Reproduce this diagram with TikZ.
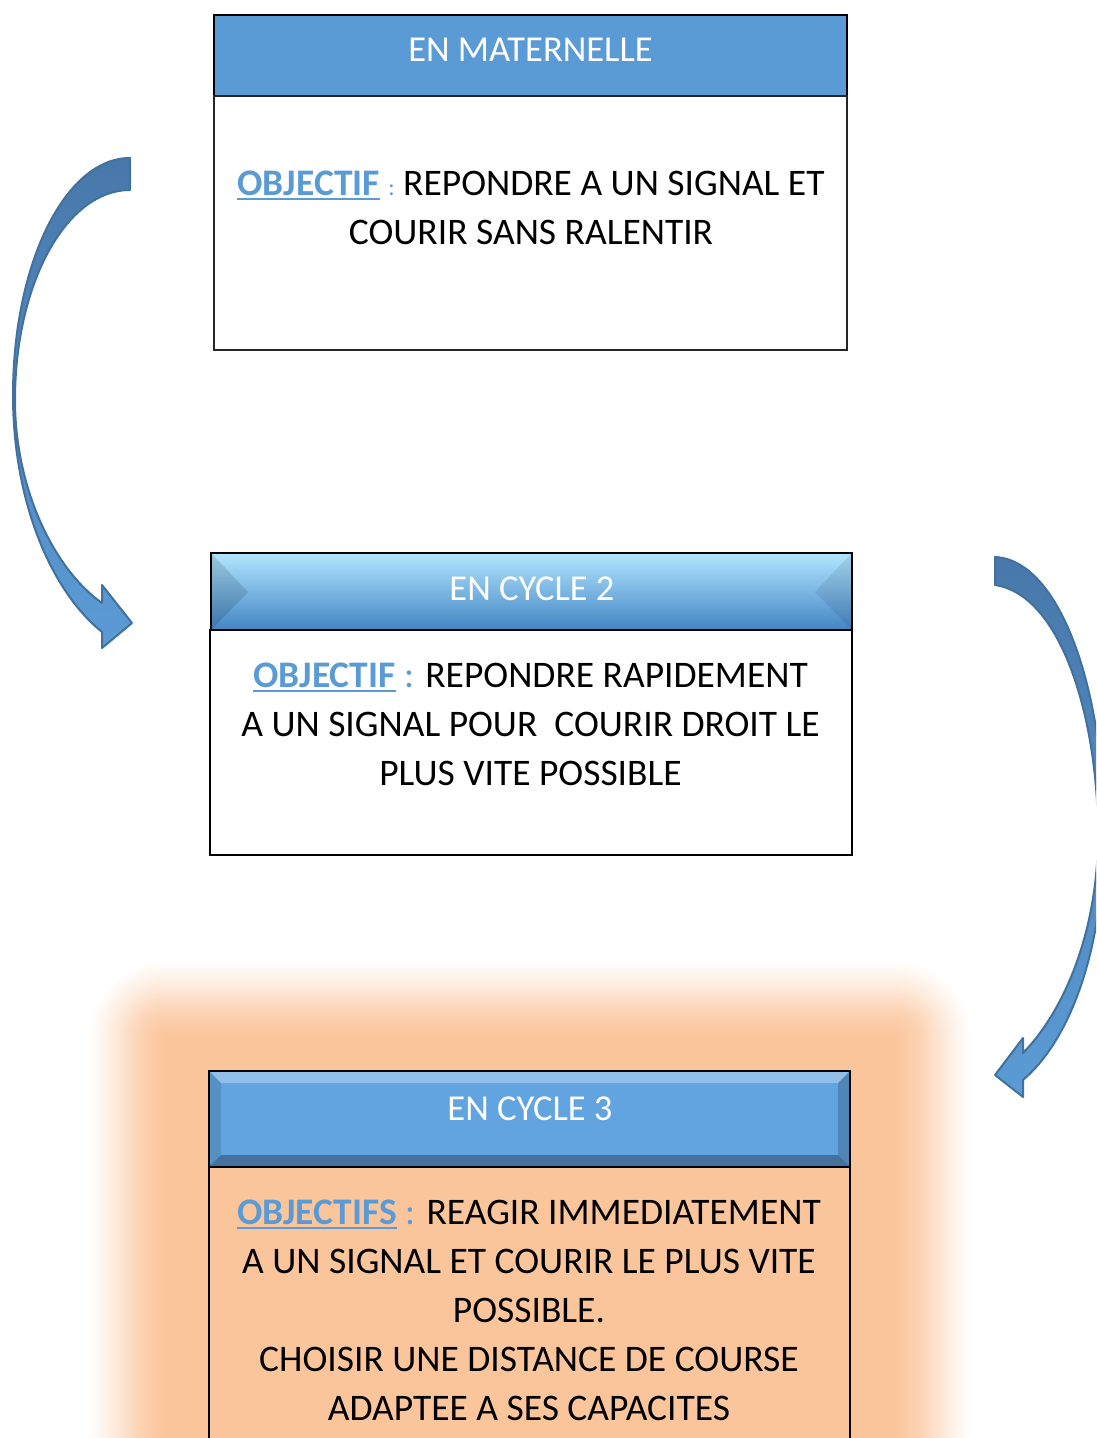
\documentclass[tikz,border=0pt]{standalone}
\usepackage{fontspec}
\setmainfont{Carlito}
\definecolor{hblue}{HTML}{5B9BD5}
\definecolor{peach}{HTML}{FBC59B}
\definecolor{arrowline}{HTML}{41719C}
\definecolor{arrowtop}{HTML}{4878AB}
\definecolor{hctop}{HTML}{B2E6FF}
\definecolor{hcmid}{HTML}{67A8E2}
\definecolor{hcbot}{HTML}{4384C4}
\definecolor{hthree}{HTML}{62A4E0}
\colorlet{glowa}{peach!75!white}
\colorlet{glowb}{peach!35!white}
\pgfdeclarehorizontalshading{glowleft}{100bp}{color(0bp)=(white); color(25bp)=(white); color(42bp)=(glowb); color(58bp)=(glowa); color(75bp)=(peach); color(100bp)=(peach)}
\pgfdeclarehorizontalshading{glowright}{100bp}{color(0bp)=(peach); color(25bp)=(peach); color(42bp)=(glowa); color(58bp)=(glowb); color(75bp)=(white); color(100bp)=(white)}
\pgfdeclareverticalshading{glowtop}{100bp}{color(0bp)=(peach); color(25bp)=(peach); color(42bp)=(glowa); color(58bp)=(glowb); color(75bp)=(white); color(100bp)=(white)}
\pgfdeclareradialshading{glowcorner}{\pgfpointorigin}{color(0bp)=(peach); color(8.5bp)=(glowa); color(16.5bp)=(glowb); color(25bp)=(white); color(50bp)=(white)}
\newcommand\objlabel[1]{\setbox0\hbox{\bfseries #1}\rlap{\rule[-5pt]{\wd0}{2.4pt}}\box0\relax}
\begin{document}
\begin{tikzpicture}[x=1pt,y=-1pt,
  txt/.style={anchor=base, inner sep=0pt, font=\fontsize{37.5}{45}\selectfont},
  htxt/.style={anchor=base, inner sep=0pt, text=white, font=\fontsize{36.5}{45}\selectfont},
  arrowsty/.style={draw=arrowline, line width=2pt, line join=round, top color=arrowtop, bottom color=hblue},
  frame/.style={draw=black, line width=2.5pt}]
\useasboundingbox (0,0) rectangle (1096,1438);
\clip (0,0) rectangle (1096,1438);

% ---------- box 1 ----------
\fill[hblue] (214,15) rectangle (847,96);
\draw[frame] (214,15) rectangle (847,96);
\draw[black!85, line width=1.2pt] (214,96) rectangle (847,350);
\node[htxt] (h1) at (530.5,61.5) {EN MATERNELLE};
\node[txt] (t1a) at (531,195) {\textcolor{hblue}{\objlabel{OBJECTIF} {\fontsize{24}{28}\selectfont :}}\ REPONDRE A UN SIGNAL ET};
\node[txt] (t1b) at (531,244) {COURIR SANS RALENTIR};

% ---------- box 2 ----------
\shade[top color=hctop, middle color=hcmid, bottom color=hcbot] (211,553) rectangle (852,630);
\fill[black, fill opacity=0.12] (211,553) -- (248,592) -- (211,630) -- cycle;
\fill[black, fill opacity=0.08] (852,553) -- (815,592) -- (852,630) -- cycle;
\draw[frame] (211,553) rectangle (852,630);
\draw[frame] (210,630) rectangle (852,855);
\node[htxt] (h2) at (532,600) {EN CYCLE 2};
\node[txt] (t2a) at (530.5,687) {\textcolor{hblue}{\objlabel{OBJECTIF} :} REPONDRE RAPIDEMENT};
\node[txt] (t2b) at (530.5,736) {A UN SIGNAL POUR\ \ COURIR DROIT LE};
\node[txt] (t2c) at (530.5,785) {PLUS VITE POSSIBLE};

% ---------- box 3 (with glow) ----------
\fill[peach] (163.5,1035.5) rectangle (895.5,1600);
\shade[shading=glowleft] (89,1035.5) rectangle (164,1600);
\shade[shading=glowright] (895,1035.5) rectangle (970,1600);
\shade[shading=glowtop] (163.5,961) rectangle (895.5,1036);
\begin{scope}
  \clip (89,961) rectangle (164,1036);
  \shade[shading=glowcorner] (164,1036) circle (75);
\end{scope}
\begin{scope}
  \clip (895,961) rectangle (970,1036);
  \shade[shading=glowcorner] (895,1036) circle (75);
\end{scope}
\fill[hthree] (209,1071) rectangle (850,1167);
\fill[white, fill opacity=0.30] (209,1071) -- (850,1071) -- (838,1083) -- (221,1083) -- cycle;
\fill[black, fill opacity=0.30] (209,1167) -- (850,1167) -- (838,1155) -- (221,1155) -- cycle;
\fill[black, fill opacity=0.12] (209,1071) -- (221,1083) -- (221,1155) -- (209,1167) -- cycle;
\fill[black, fill opacity=0.18] (850,1071) -- (838,1083) -- (838,1155) -- (850,1167) -- cycle;
\draw[frame] (209,1071) rectangle (850,1167);
\draw[frame] (209,1167) rectangle (850,1460);
\node[htxt] (h3) at (530,1120) {EN CYCLE 3};
\node[txt] (t3a) at (529,1224) {\textcolor{hblue}{\objlabel{OBJECTIFS} :} REAGIR IMMEDIATEMENT};
\node[txt] (t3b) at (529,1273) {A UN SIGNAL ET COURIR LE PLUS VITE};
\node[txt] (t3c) at (529,1322) {POSSIBLE.};
\node[txt] (t3d) at (529,1371) {CHOISIR UNE DISTANCE DE COURSE};
\node[txt] (t3e) at (529,1420) {ADAPTEE A SES CAPACITES};

% ---------- curved arrows ----------
\shadedraw[arrowsty] (130,158) .. controls (65,158) and (13,264) .. (13,395)
  .. controls (13,500) and (50,590) .. (102,632) -- (102,648) -- (132,623)
  -- (102,585) -- (102,603) .. controls (55,570) and (15,490) .. (15,400)
  .. controls (15,284) and (66,190) .. (130,190) -- cycle;
\shadedraw[arrowsty] (995,557) .. controls (1060,560) and (1104,690) .. (1104,830)
  .. controls (1104,950) and (1070,1040) .. (1023,1080) -- (1023,1097) -- (995,1075)
  -- (1023,1038) -- (1023,1053) .. controls (1065,1010) and (1098,930) .. (1098,835)
  .. controls (1098,720) and (1062,595) .. (995,585) -- cycle;
\end{tikzpicture}
\end{document}
